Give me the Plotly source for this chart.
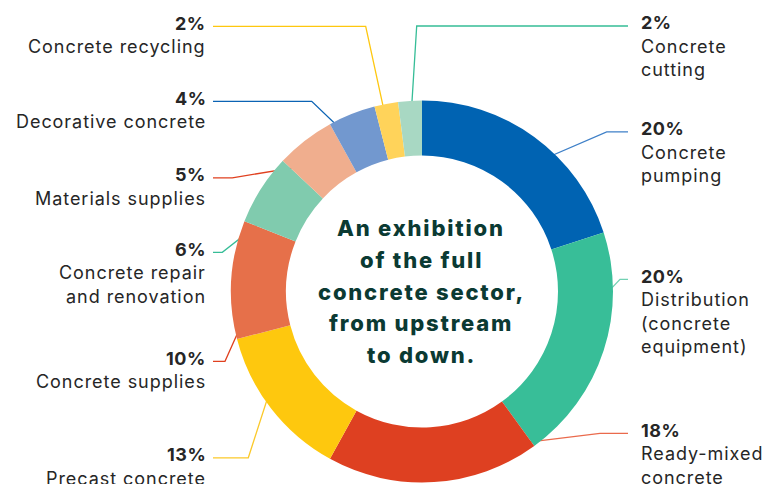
import math
import plotly.graph_objects as go

# ---------------- data ----------------
categories = ["Concrete pumping", "Distribution (concrete equipment)", "Ready-mixed concrete",
              "Precast concrete", "Concrete supplies", "Concrete repair and renovation",
              "Materials supplies", "Decorative concrete", "Concrete recycling", "Concrete cutting"]
shares = [20, 20, 18, 13, 10, 6, 5, 4, 2, 2]
label_lines = [["Concrete", "pumping"], ["Distribution", "(concrete", "equipment)"],
               ["Ready-mixed", "concrete"], ["Precast concrete"], ["Concrete supplies"],
               ["Concrete repair", "and renovation"], ["Materials supplies"],
               ["Decorative concrete"], ["Concrete recycling"], ["Concrete", "cutting"]]
center_text = ["An exhibition", "of the full", "concrete sector,", "from upstream", "to down."]

# ---------------- styles / layout ----------------
W, H = 781, 484
OFF = 8          # page body margin in the browser
CX, CY, R_OUT, R_IN = 422, 291.5, 191, 136
slice_colors = ["#0063B2", "#38BE98", "#DE4021", "#FEC80E", "#E6704A",
                "#80CBAE", "#F0AE8E", "#7298CF", "#FFD35A", "#A8D8C3"]
line_colors = ["#3F80C8", "#72D1B3", "#EA6A4C", "#FBC92A", "#E0401F",
               "#36BD97", "#E0401F", "#0B63B4", "#FEC70F", "#36BD97"]
dot_shift = [4, -8.7, 3.4, 10, -1.7, 0, -0.6, -2.7, -1, -0.5]   # degrees
side = ["r", "r", "r", "l", "l", "l", "l", "l", "l", "r"]
pct_y = [128.5, 276, 430, 454.5, 358, 249, 174.5, 98, 23, 22.7]
elbow_x = [606.7, 620, 600, 248.3, 225, 222.3, 232.3, 311.7, 365.7, 416.7]
LEFT_X, RIGHT_X = 206, 640.5
LEFT_END, RIGHT_END = 213, 628
LINE_H = 23.5
FONT = "Inter"
TXT = "#262626"
LS = "letter-spacing:0.95px"

fig = go.Figure()
fig.add_trace(go.Pie(
    labels=categories, values=shares, sort=False, direction="clockwise", rotation=0,
    hole=R_IN / R_OUT, textinfo="none", hoverinfo="label+percent",
    marker=dict(colors=slice_colors, line=dict(width=0)),
    domain=dict(x=[(CX - R_OUT - OFF) / W, (CX + R_OUT - OFF) / W],
                y=[1 - (CY + R_OUT - OFF) / H, 1 - (CY - R_OUT - OFF) / H]),
    showlegend=False))

total = sum(shares)
r_mid = (R_OUT + R_IN) / 2
cum = 0
annotations = []


def txt(x, y, text, xa, size, color, weight="normal"):
    annotations.append(dict(x=x, y=y, text=text, showarrow=False, xanchor=xa, yanchor="middle",
                            xref="x", yref="y", borderpad=0, borderwidth=0,
                            font=dict(family=FONT, size=size, color=color, weight=weight)))


for i, v in enumerate(shares):
    ang = math.radians((cum + v / 2) / total * 360 + dot_shift[i])
    cum += v
    dx = CX + r_mid * math.sin(ang)
    dy = CY - r_mid * math.cos(ang)
    ly = pct_y[i] + 3.3
    endx = RIGHT_END if side[i] == "r" else LEFT_END
    fig.add_trace(go.Scatter(x=[dx, elbow_x[i], endx], y=[dy, ly, ly], mode="lines",
                             line=dict(color=line_colors[i], width=1.3),
                             hoverinfo="skip", showlegend=False))
    fig.add_trace(go.Scatter(x=[dx], y=[dy], mode="markers",
                             marker=dict(size=9, color="white",
                                         line=dict(color=line_colors[i], width=1.5)),
                             hoverinfo="skip", showlegend=False))
    tx = RIGHT_X if side[i] == "r" else LEFT_X
    xa = "left" if side[i] == "r" else "right"
    txt(tx, pct_y[i], f'<span style="letter-spacing:0.5px">{v}%</span>', xa, 18, TXT, "bold")
    for k, t in enumerate(label_lines[i]):
        txt(tx, pct_y[i] + LINE_H * (k + 1), f'<span style="{LS}">{t}</span>', xa, 18, TXT)

for k, t in enumerate(center_text):
    txt(421, 228 + 31.8 * k, f'<span style="letter-spacing:1.8px">{t}</span>', "center",
        22, "#0B3A33", 800)

fig.update_layout(
    width=W, height=H, margin=dict(l=0, r=0, t=0, b=0),
    paper_bgcolor="white", plot_bgcolor="rgba(0,0,0,0)",
    xaxis=dict(range=[OFF, OFF + W], visible=False, fixedrange=True),
    yaxis=dict(range=[OFF + H, OFF], visible=False, fixedrange=True),
    annotations=annotations)

fig.write_html("out.html")
